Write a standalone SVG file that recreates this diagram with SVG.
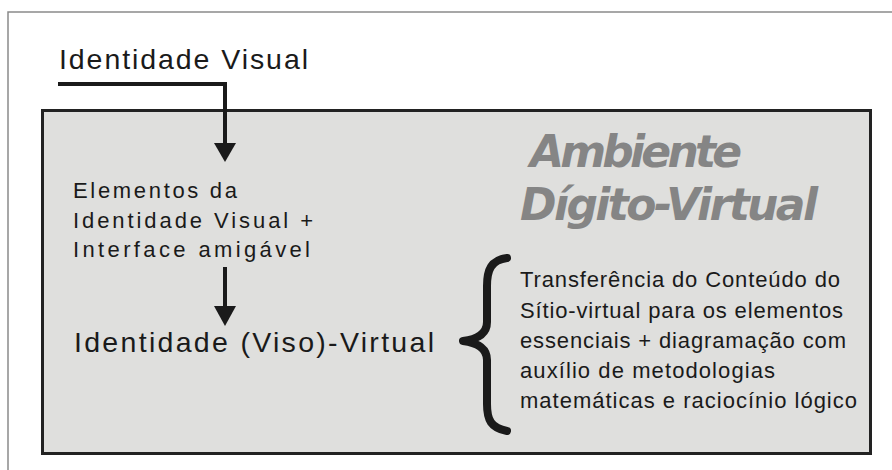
<svg xmlns="http://www.w3.org/2000/svg" width="892" height="470" viewBox="0 0 892 470">
<defs>
<style>
.t{font-family:"Liberation Sans",Arial,sans-serif;fill:#1a1a1a;}
.big{font-size:28.5px;}
.mid{font-size:22px;}
.sm{font-size:22px;}
.title{font-family:"DejaVu Sans",Verdana,sans-serif;font-weight:bold;font-style:italic;font-size:44px;fill:#858585;}
.conn{stroke:#1a1a1a;stroke-width:4;fill:none;}
.head{fill:#1a1a1a;}
</style>
</defs>
<rect width="892" height="470" fill="#ffffff"/>
<g id="frame">
<path d="M8,470 L8,12 L892,12" fill="none" stroke="#8a8a8a" stroke-width="1.5"/>
</g>
<g id="ambiente">
<rect x="42.5" y="110.5" width="828" height="343" fill="#dfdfdd" stroke="#222222" stroke-width="3"/>
<text class="title" x="530" y="167" textLength="212" lengthAdjust="spacing">Ambiente</text>
<text class="title" x="520" y="220" textLength="298" lengthAdjust="spacing">Dígito-Virtual</text>
</g>
<g id="identidade-visual">
<text class="t big" x="59" y="69" textLength="249" lengthAdjust="spacing">Identidade Visual</text>
</g>
<g id="elementos">
<text class="t mid" x="73" y="198" textLength="164" lengthAdjust="spacing">Elementos da</text>
<text class="t mid" x="73" y="227.5" textLength="240" lengthAdjust="spacing">Identidade Visual +</text>
<text class="t mid" x="73" y="257" textLength="237" lengthAdjust="spacing">Interface amigável</text>
</g>
<g id="identidade-viso-virtual">
<text class="t big" x="74" y="352" textLength="360" lengthAdjust="spacing">Identidade (Viso)-Virtual</text>
</g>
<g id="transferencia">
<path d="M507,258 C491,260 487,270 487,286 L487,322 C487,333 479,339 463,341 C479,343 487,349 487,360 L487,404 C487,420 491,428 507,431" fill="none" stroke="#1a1a1a" stroke-width="8" stroke-linecap="round" stroke-linejoin="round"/>
<text class="t sm" x="520" y="287" textLength="320" lengthAdjust="spacing">Transferência do Conteúdo do</text>
<text class="t sm" x="520" y="317.5" textLength="323" lengthAdjust="spacing">Sítio-virtual para os elementos</text>
<text class="t sm" x="520" y="348" textLength="326" lengthAdjust="spacing">essenciais + diagramação com</text>
<text class="t sm" x="520" y="378" textLength="255" lengthAdjust="spacing">auxílio de metodologias</text>
<text class="t sm" x="520" y="408" textLength="337" lengthAdjust="spacing">matemáticas e raciocínio lógico</text>
</g>
<g id="connectors">
<path class="conn" d="M58,84 L225,84 L225,145"/>
<polygon class="head" points="214,143 236,143 225,162"/>
<path class="conn" d="M225,267 L225,308"/>
<polygon class="head" points="214,306 236,306 225,326"/>
</g>
</svg>
